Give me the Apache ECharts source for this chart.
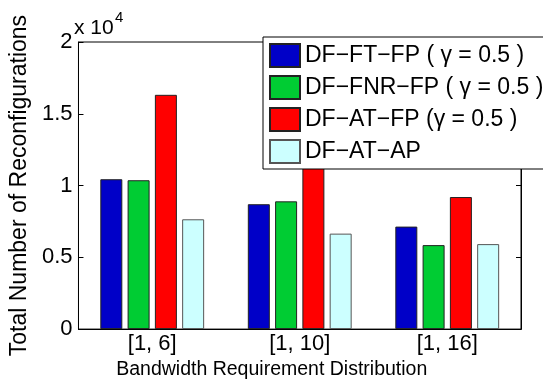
<!DOCTYPE html>
<html>
<head>
<meta charset="utf-8">
<script src="https://cdn.jsdelivr.net/npm/echarts@6/dist/echarts.min.js"></script>
<style>
html,body{margin:0;padding:0;background:#fff;}
#chart{width:543px;height:385px;}
</style>
</head>
<body>
<div id="chart"></div>
<script>
const categories = ['[1, 6]', '[1, 10]', '[1, 16]'];
const seriesNames = ['DF\u2212FT\u2212FP ( \u03b3 = 0.5 )', 'DF\u2212FNR\u2212FP ( \u03b3 = 0.5 )', 'DF\u2212AT\u2212FP (\u03b3 = 0.5 )', 'DF\u2212AT\u2212AP'];
const dfFtFp = [10440, 8700, 7140];
const dfFnrFp = [10370, 8900, 5850];
const dfAtFp = [16320, 11650, 9200];
const dfAtAp = [7650, 6650, 5920];
const yTicks = [0, 5000, 10000, 15000, 20000];
const colors = ['#0000c8', '#00cc33', '#ff0000', '#ccffff'];
const borders = ['#222', '#222', '#222', '#555'];

const font = 'Liberation Sans, Arial, Helvetica, sans-serif';
const values = [dfFtFp, dfFnrFp, dfAtFp, dfAtAp];

const chart = echarts.init(document.getElementById('chart'));
chart.setOption({
  animation: false,
  backgroundColor: '#fff',
  textStyle: {fontFamily: font, color: '#000'},
  grid: {left: 73, top: 42, right: 22, bottom: 48, show: true, borderColor: '#000', borderWidth: 1, backgroundColor: 'transparent'},
  legend: {
    orient: 'vertical', left: 263, top: 37,
    padding: [6, 2, 5, 6], itemGap: 7, itemWidth: 30, itemHeight: 23,
    backgroundColor: '#fff', borderColor: '#000', borderWidth: 1,
    icon: 'rect',
    textStyle: {fontSize: 23, color: '#000', fontFamily: font},
    data: seriesNames
  },
  xAxis: [{
    type: 'category', data: categories, position: 'bottom',
    axisLine: {lineStyle: {color: '#000', width: 1}},
    axisTick: {inside: true, alignWithLabel: true, length: 5, lineStyle: {color: '#000'}},
    axisLabel: {fontSize: 22, color: '#000', margin: 4, fontFamily: font},
    name: 'Bandwidth Requirement Distribution', nameLocation: 'middle', nameGap: 26,
    nameTextStyle: {fontSize: 19.5, color: '#000', fontFamily: font, padding: [0, 56, 0, 0]}
  }, {
    type: 'category', data: categories, position: 'top',
    axisLine: {lineStyle: {color: '#000'}},
    axisTick: {inside: true, alignWithLabel: true, length: 5, lineStyle: {color: '#000'}},
    axisLabel: {show: false}
  }],
  yAxis: [{
    type: 'value', min: 0, max: 20000, interval: 5000, position: 'left',
    splitLine: {show: false},
    axisLine: {show: true, lineStyle: {color: '#000'}},
    axisTick: {show: true, inside: true, length: 5, lineStyle: {color: '#000'}},
    axisLabel: {fontSize: 22, color: '#000', margin: 6, fontFamily: font,
      formatter: v => yTicks.indexOf(v) >= 0 ? String(v / 10000) : ''},
    name: 'Total Number of Reconfigurations', nameLocation: 'middle', nameGap: 44,
    nameTextStyle: {fontSize: 23, color: '#000', fontFamily: font}
  }, {
    type: 'value', min: 0, max: 20000, interval: 5000, position: 'right',
    splitLine: {show: false},
    axisLine: {show: true, lineStyle: {color: '#000'}},
    axisTick: {show: true, inside: true, length: 5, lineStyle: {color: '#000'}},
    axisLabel: {show: false}
  }],
  graphic: [
    {type: 'text', left: 74, top: 18, style: {text: 'x 10', fontSize: 21, fill: '#000', fontFamily: font}},
    {type: 'text', left: 115, top: 10, style: {text: '4', fontSize: 15, fill: '#000', fontFamily: font}}
  ],
  series: seriesNames.map((n, i) => ({
    name: n, type: 'bar', data: values[i], barWidth: 22, barGap: '24%',
    itemStyle: {color: colors[i], borderColor: borders[i], borderWidth: 1}
  }))
});
</script>
</body>
</html>
